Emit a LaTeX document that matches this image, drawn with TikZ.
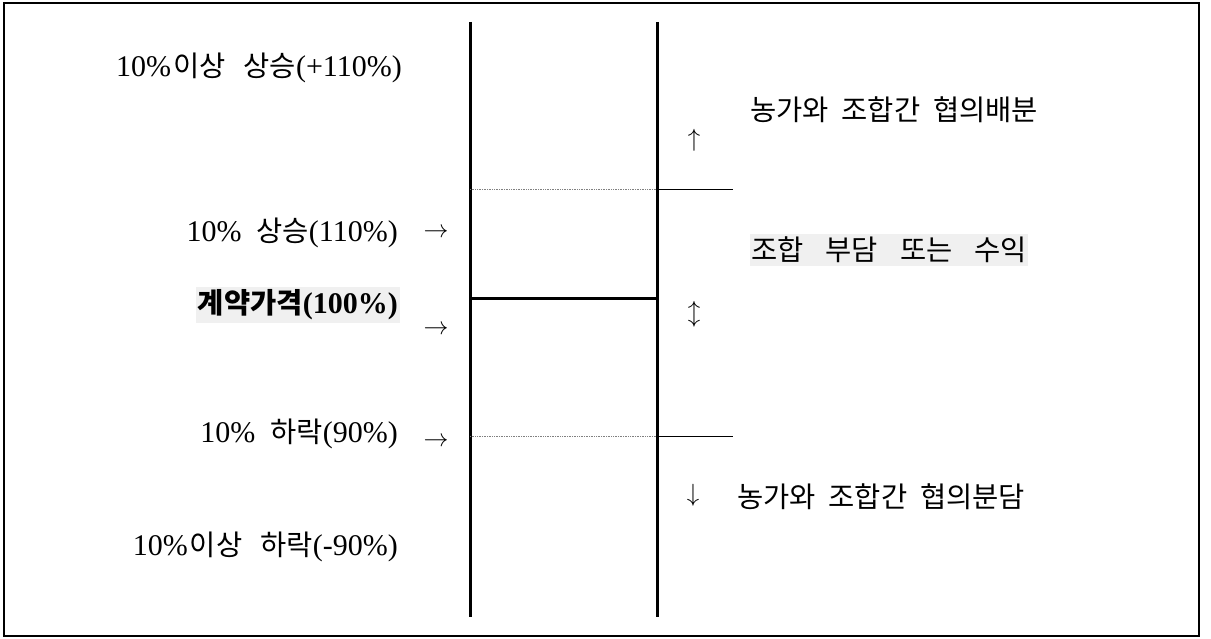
\documentclass[tikz,border=0pt]{standalone}
\usepackage{fontspec}
\setmainfont{Liberation Serif}
\newfontfamily\kr[Scale=0.95]{Noto Sans CJK KR}
\tikzset{
  lbl/.style={inner sep=0pt, font=\fontsize{30}{34}\selectfont},
  arr/.style={inner sep=0pt, font=\fontsize{28}{32}\selectfont},
  axis/.style={line width=3pt},
  guide/.style={gray, densely dotted, line width=0.7pt},
  tick/.style={line width=0.9pt},
  shade/.style={fill=black!6}
}
\begin{document}
\begin{tikzpicture}[x=1pt,y=-1pt]
\useasboundingbox (0,0) rectangle (1211,639);
\draw[line width=1.4pt] (4,3) rectangle (1199,636);
% axes
\coordinate (L1) at (470,22); \coordinate (L2) at (470,617);
\coordinate (R1) at (657,22); \coordinate (R2) at (657,617);
\draw[axis] (L1) -- (L2);
\draw[axis] (R1) -- (R2);
\coordinate (cL) at (470,299); \coordinate (cR) at (657,299);
\draw[axis] (cL) -- (cR);
\coordinate (uL) at (470,189); \coordinate (uR) at (657,189); \coordinate (uE) at (733,189);
\draw[guide] (uL) -- (uR);
\draw[tick] (uR) -- (uE);
\coordinate (dL) at (470,436); \coordinate (dR) at (657,436); \coordinate (dE) at (733,436);
\draw[guide] (dL) -- (dR);
\draw[tick] (dR) -- (dE);
% left labels
\node[lbl, anchor=east] (t1) at (402,68) {10\%\hspace{2pt}{\kr 이상\hspace{18pt}상승}(+110\%)};
\node[lbl, anchor=east] (t2) at (398,233) {10\%\ \ {\kr 상승}(110\%)};
\node[arr] (a2) at (436,233) {$\rightarrow$};
\node[lbl, anchor=east, shade, inner xsep=2pt, inner ysep=3pt] (t3) at (400,305) {\bfseries{\kr 계약가격}(100\%)};
\node[arr] (a3) at (436,330) {$\rightarrow$};
\node[lbl, anchor=east] (t4) at (398,434) {10\%\ \ {\kr 하락}(90\%)};
\node[arr] (a4) at (436,442) {$\rightarrow$};
\node[lbl, anchor=east] (t5) at (398,547) {10\%\hspace{2pt}{\kr 이상\hspace{18pt}하락}(-90\%)};
% right labels
\node[lbl, anchor=west] (r1) at (750,110) {\kr 농가와\ \ 조합간\ \ 협의배분};
\node[arr] (b1) at (694,140) {$\uparrow$};
\node[lbl, anchor=west, shade, inner xsep=1pt, inner ysep=3pt] (r2) at (750,250) {\kr 조합\hspace{22pt}부담\hspace{22pt}또는\hspace{22pt}수익};
\node[arr] (b2) at (694,314) {$\updownarrow$};
\node[arr] (b3) at (693,495) {$\downarrow$};
\node[lbl, anchor=west] (r3) at (737,497) {\kr 농가와\ \ 조합간\ \ 협의분담};
\end{tikzpicture}
\end{document}
